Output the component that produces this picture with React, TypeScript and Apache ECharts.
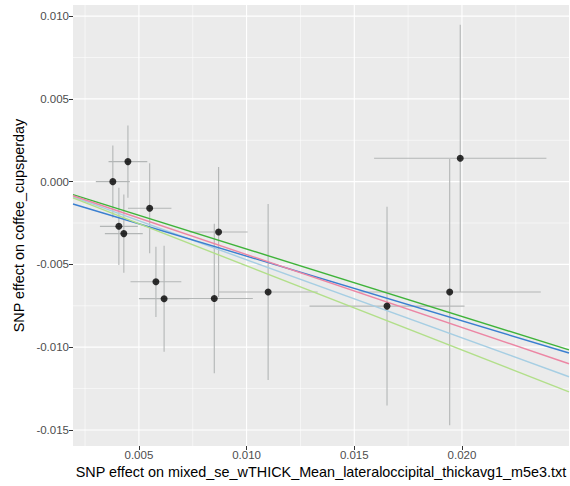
import React, { useEffect, useRef } from "react";
import * as echarts from "echarts";

// SNP-level estimates (exposure = x, outcome = y) with standard errors
const betaExposure = [0.00379, 0.00449, 0.00407, 0.0043, 0.0055, 0.0087, 0.00579, 0.00617, 0.0085, 0.011, 0.01652, 0.01943, 0.01992];
const betaOutcome = [0.0, 0.00121, -0.0027, -0.00314, -0.00161, -0.00304, -0.00605, -0.00707, -0.00706, -0.00667, -0.00752, -0.00667, 0.00141];
const seExposure = [0.00079, 0.0009, 0.00088, 0.00088, 0.00101, 0.00135, 0.00118, 0.00117, 0.00179, 0.0023, 0.0036, 0.00423, 0.004];
const seOutcome = [0.00218, 0.00218, 0.00233, 0.00236, 0.00272, 0.00393, 0.00212, 0.0032, 0.00451, 0.00532, 0.006, 0.00804, 0.00807];

// MR method fits
const methodNames = ["Inverse variance weighted", "MR Egger", "Simple mode", "Weighted median", "Weighted mode"];
const methodIntercepts = [0, -0.00059, 0, 0, 0];
const methodSlopes = [-0.472, -0.391, -0.5085, -0.407, -0.4406];
const methodColors = ["#a6cee3", "#3a7fd0", "#b2df8a", "#3fb33a", "#ec86a4"];

// axes
const xMin = 0.00194;
const xMax = 0.02497;
const yMin = -0.01597;
const yMax = 0.01067;
const xMajorTicks = [0.005, 0.01, 0.015, 0.02];
const xMinorTicks = [0.0025, 0.0075, 0.0125, 0.0175, 0.0225];
const yMajorTicks = [-0.015, -0.01, -0.005, 0, 0.005, 0.01];
const yMinorTicks = [-0.0125, -0.0075, -0.0025, 0.0025, 0.0075];

const xTitle = "SNP effect on mixed_se_wTHICK_Mean_lateraloccipital_thickavg1_m5e3.txt";
const yTitle = "SNP effect on coffee_cupsperday";

const FONT = "'Liberation Sans', Arial, Helvetica, sans-serif";

export default function App() {
  const ref = useRef<HTMLDivElement>(null);
  useEffect(() => {
    if (!ref.current) return;
    const chart = echarts.init(ref.current, undefined, { renderer: "svg" });

    const points = betaExposure.map((x, i) => [x, betaOutcome[i], seExposure[i], seOutcome[i]]);

    // [value, orientation (0 = vertical line at x, 1 = horizontal line at y), major flag]
    const gridItems = [
      ...xMinorTicks.map((v) => [v, 0, 0]),
      ...yMinorTicks.map((v) => [v, 1, 0]),
      ...xMajorTicks.map((v) => [v, 0, 1]),
      ...yMajorTicks.map((v) => [v, 1, 1]),
    ];

    const gridLineSeries = {
      type: "custom",
      z: 2,
      silent: true,
      data: gridItems,
      encode: { x: -1, y: -1 },
      renderItem: (_params: any, api: any) => {
        const v = api.value(0);
        const orient = api.value(1);
        const major = api.value(2);
        const a = orient === 0 ? api.coord([v, yMin]) : api.coord([xMin, v]);
        const b = orient === 0 ? api.coord([v, yMax]) : api.coord([xMax, v]);
        return {
          type: "line",
          shape: { x1: a[0], y1: a[1], x2: b[0], y2: b[1] },
          style: { stroke: "#ffffff", lineWidth: major ? 1.1 : 0.55 },
        };
      },
    };

    const option: any = {
      animation: false,
      grid: {
        left: 73,
        top: 5,
        right: 1,
        bottom: 40,
        show: true,
        backgroundColor: "#ebebeb",
        borderWidth: 0,
        containLabel: false,
        outerBoundsMode: "none",
      },
      xAxis: {
        type: "value",
        min: xMin,
        max: xMax,
        axisLine: { show: false, onZero: false },
        splitLine: { show: false },
        axisTick: { show: true, customValues: xMajorTicks, length: 4, lineStyle: { color: "#333333", width: 1 } },
        axisLabel: {
          customValues: xMajorTicks,
          formatter: (v: number) => v.toFixed(3),
          color: "#4d4d4d",
          fontSize: 11.5,
          fontFamily: FONT,
          margin: 3,
        },
        name: xTitle,
        nameLocation: "middle",
        nameGap: 26,
        nameMoveOverlap: false,
        nameTextStyle: { color: "#000000", fontSize: 14.4, fontFamily: FONT, verticalAlign: "middle" },
      },
      yAxis: {
        type: "value",
        min: yMin,
        max: yMax,
        axisLine: { show: false, onZero: false },
        splitLine: { show: false },
        axisTick: { show: true, customValues: yMajorTicks, length: 4, lineStyle: { color: "#333333", width: 1 } },
        axisLabel: {
          customValues: yMajorTicks,
          formatter: (v: number) => v.toFixed(3),
          color: "#4d4d4d",
          fontSize: 11.5,
          fontFamily: FONT,
          margin: 4,
        },
        name: yTitle,
        nameLocation: "middle",
        nameGap: 54,
        nameMoveOverlap: false,
        nameTextStyle: { color: "#000000", fontSize: 14.4, fontFamily: FONT, verticalAlign: "middle" },
      },
      series: [
        gridLineSeries,
        {
          type: "custom",
          z: 3,
          silent: true,
          data: points,
          renderItem: (_params: any, api: any) => {
            const x = api.value(0);
            const y = api.value(1);
            const sx = api.value(2);
            const sy = api.value(3);
            const h0 = api.coord([x - sx, y]);
            const h1 = api.coord([x + sx, y]);
            const v0 = api.coord([x, y - sy]);
            const v1 = api.coord([x, y + sy]);
            const style = { stroke: "#b3b6b6", lineWidth: 1.1 };
            return {
              type: "group",
              children: [
                { type: "line", shape: { x1: h0[0], y1: h0[1], x2: h1[0], y2: h1[1] }, style },
                { type: "line", shape: { x1: v0[0], y1: v0[1], x2: v1[0], y2: v1[1] }, style },
              ],
            };
          },
        },
        ...methodNames.map((name, i) => ({
          type: "line",
          name,
          z: 4,
          silent: true,
          symbol: "none",
          lineStyle: { color: methodColors[i], width: 1.4 },
          data: [
            [xMin, methodIntercepts[i] + methodSlopes[i] * xMin],
            [xMax, methodIntercepts[i] + methodSlopes[i] * xMax],
          ],
        })),
        {
          type: "scatter",
          z: 5,
          silent: true,
          symbol: "circle",
          symbolSize: 7,
          itemStyle: { color: "#000000" },
          data: betaExposure.map((x, i) => [x, betaOutcome[i]]),
        },
      ],
    };
    chart.setOption(option);
    return () => chart.dispose();
  }, []);
  return (
    <div
      ref={ref}
      style={{ position: "fixed", left: 0, top: 0, width: 570, height: 486, background: "#ffffff" }}
    />
  );
}
